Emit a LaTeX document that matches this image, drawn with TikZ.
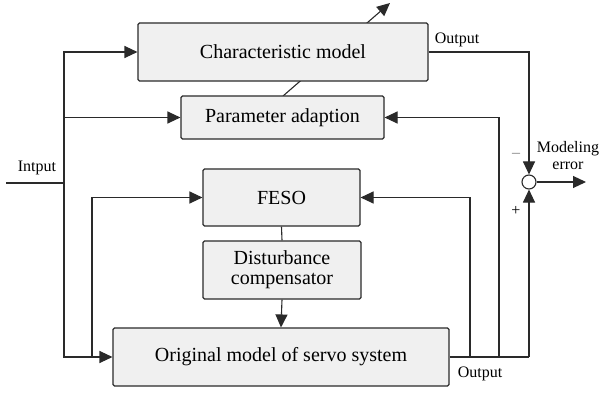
\documentclass[tikz,border=0pt]{standalone}
\usepackage{fontspec}
\setmainfont{Liberation Serif}
\usetikzlibrary{arrows.meta}
\definecolor{boxfill}{HTML}{F0F0F0}
\definecolor{linec}{HTML}{2A2A2A}
\tikzset{
  blk/.style={draw=linec, fill=boxfill, line width=1.1pt, rounded corners=1.5pt, inner sep=0pt, align=center, font=\fontsize{20}{22}\selectfont},
  conn/.style={draw=linec, line width=1.1pt},
  arr/.style={conn, -{Triangle[length=13pt,width=12pt]}},
  lbl/.style={font=\fontsize{16}{18}\selectfont, inner sep=0pt, align=center},
}
\begin{document}
\begin{tikzpicture}[x=1pt,y=-1pt]
\useasboundingbox (0,0) rectangle (600,393);
% diagonal adaptation arrow (behind the model block)
\coordinate (da) at (283,96);
\coordinate (db) at (390,3);
\draw[arr] (da) -- (db);
% blocks
\node[blk, minimum width=290pt, minimum height=58pt] (cm) at (283,52) {Characteristic model};
\node[blk, minimum width=203pt, minimum height=43pt] (pa) at (282.5,117.5) {Parameter adaption};
\node[blk, minimum width=157pt, minimum height=57pt] (feso) at (281.5,197.5) {FESO};
\node[blk, minimum width=158pt, minimum height=58pt] (dc) at (282,270) {Disturbance\\[-2pt]compensator};
\node[blk, minimum width=336pt, minimum height=58pt] (om) at (281,357) {Original model of servo system};
\node[draw=linec, fill=white, line width=1.1pt, circle, minimum size=14pt, inner sep=0pt] (sum) at (529,182) {};
% coordinates
\coordinate (in) at (6,183);
\coordinate (jin) at (64,183);
\coordinate (jb) at (92,357);
\coordinate (jo) at (529,357);
\coordinate (jf) at (470,357);
\coordinate (jp) at (499,357);
\coordinate (eout) at (586,182);
% connectors
\draw[conn] (in) -- (jin);
\draw[arr] (jin) |- (cm.west);
\draw[arr] (jin) |- (pa.west);
\draw[arr] (jin) |- (om.west);
\draw[arr] (jb) |- (feso.west);
\draw[conn] (feso.south) -- (dc.north);
\draw[arr] (dc.south) -- (om.north);
\draw[conn] (om.east) -- (jo);
\draw[arr] (jo) -- (sum.south);
\draw[arr] (jf) |- (feso.east);
\draw[arr] (jp) |- (pa.east);
\draw[arr] (cm.east) -| (sum.north);
\draw[arr] (sum.east) -- (eout);
% labels
\node[lbl] (lin) at (37,168) {Intput};
\node[lbl] (lout1) at (457,40) {Output};
\node[lbl] (lout2) at (480,374) {Output};
\node[lbl] (lerr) at (568,156) {Modeling\\[-1pt]error};
\node[lbl, text=gray] (lminus) at (516,155) {–};
\node[lbl] (lplus) at (516,211) {+};
\end{tikzpicture}
\end{document}
